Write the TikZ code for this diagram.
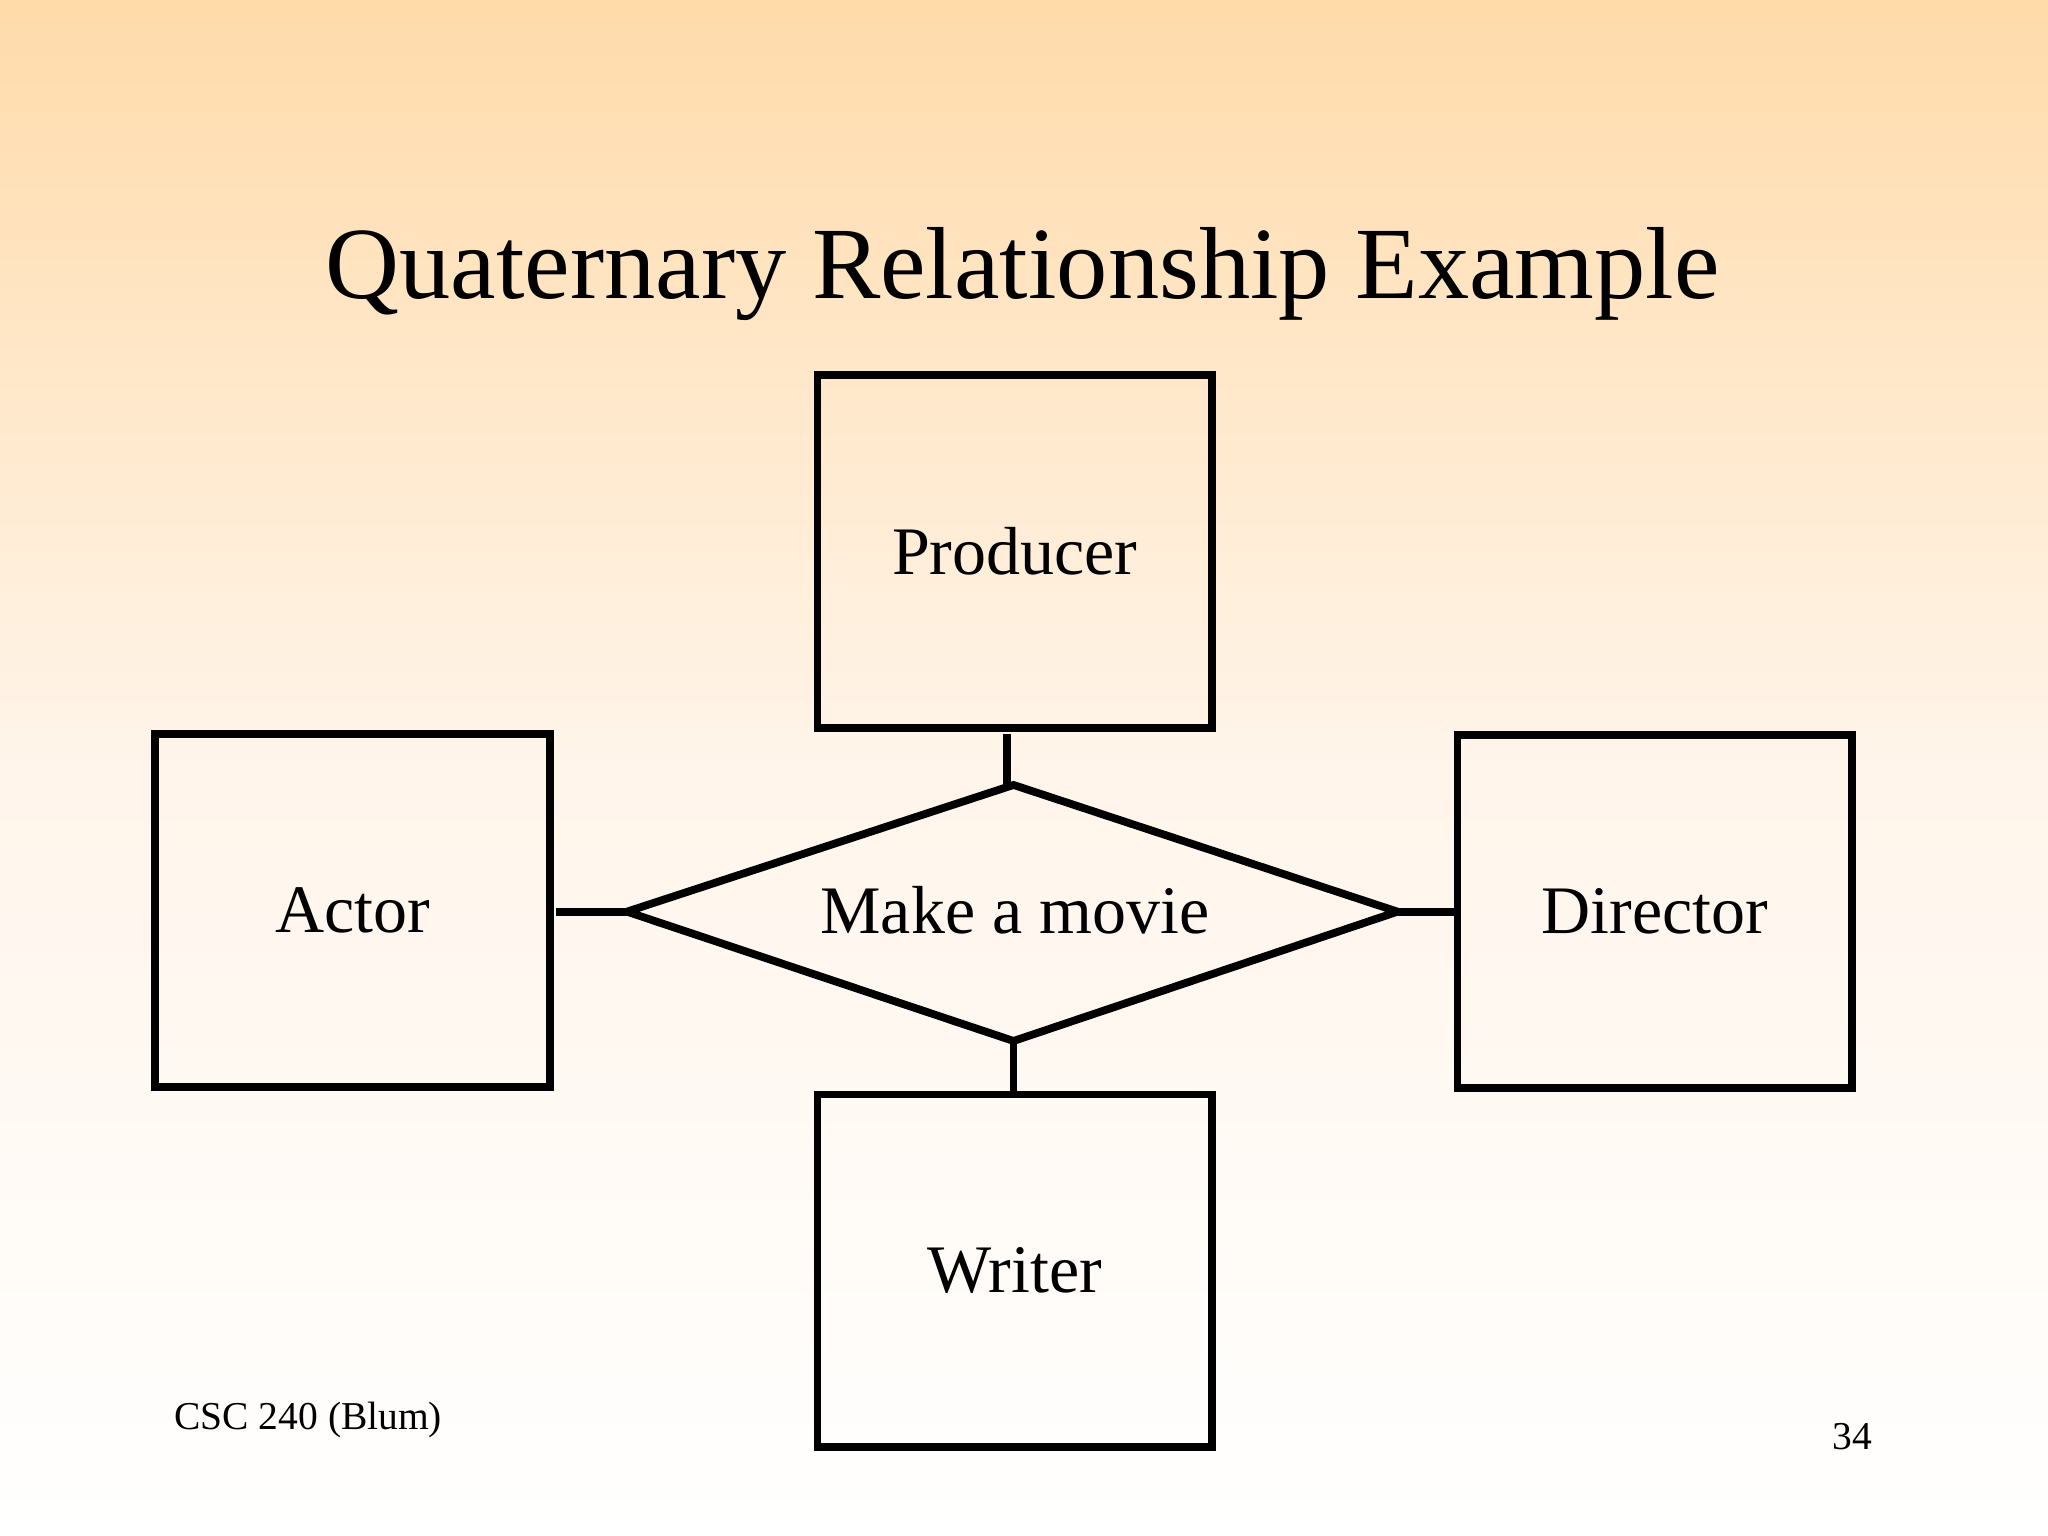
\documentclass[tikz,border=0pt]{standalone}
\usepackage{fontspec}
\setmainfont{Liberation Serif}
\usetikzlibrary{shapes.geometric}
\begin{document}
\begin{tikzpicture}[x=0.01cm,y=-0.01cm,
  ent/.style={draw,line width=1.7pt,minimum width=3.02cm,minimum height=2.70cm,font=\fontsize{14.8}{17}\selectfont},
  conn/.style={line width=1.7pt}]
\shade[top color=orange!30!white!95!yellow, bottom color=white, middle color=orange!8!white] (0,0) rectangle (1568,1176);
\useasboundingbox (0,0) rectangle (1568,1176);
\node[font=\fontsize{22.3}{26}\selectfont] (title) at (783,210) {Quaternary Relationship Example};
\node[ent] (prod) at (777,422) {Producer};
\node[ent] (actor) at (270,697) {Actor};
\node[ent] (dir) at (1267,698) {Director};
\node[ent] (wri) at (777,973) {Writer};
\draw[line width=1.7pt] (480,698) coordinate (dl) -- (776,601) coordinate (dt) -- (1070,698) coordinate (dr) -- (776,797) coordinate (db) -- cycle;
\node[font=\fontsize{14.8}{17}\selectfont] (rel) at (777,697) {Make a movie};
\coordinate (p1) at (771,562); \coordinate (p2) at (771,601);
\draw[conn] (p1) -- (p2);
\coordinate (a1) at (426,698); \draw[conn] (a1) -- (dl);
\coordinate (r1) at (1114,698); \draw[conn] (dr) -- (r1);
\coordinate (w1) at (776,838); \draw[conn] (db) -- (w1);
\node[font=\fontsize{8.6}{10}\selectfont] (foot) at (236,1087) {CSC 240 (Blum)};
\node[font=\fontsize{8.6}{10}\selectfont] (num) at (1418,1100) {34};
\end{tikzpicture}
\end{document}
